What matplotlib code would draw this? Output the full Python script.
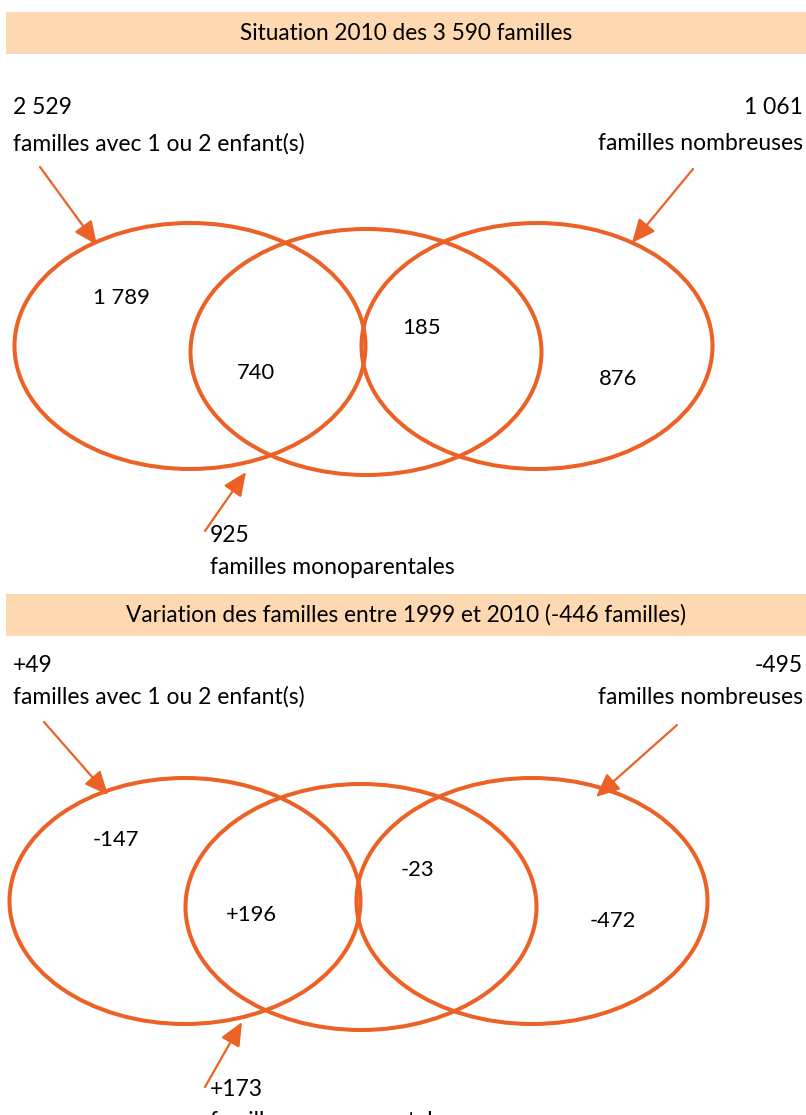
import matplotlib.pyplot as plt
from matplotlib.patches import Ellipse, Rectangle

plt.rcParams['font.family'] = ['Lato', 'DejaVu Sans']

# data
titles = ["Situation 2010 des 3 590 familles",
          "Variation des familles entre 1999 et 2010 (-446 familles)"]
group_names = ["familles avec 1 ou 2 enfant(s)", "familles nombreuses", "familles monoparentales"]
totals_2010 = ["2 529", "1 061", "925"]
totals_var = ["+49", "-495", "+173"]
# regions: 1-2 enfants seuls, 1-2 enfants monoparentales, nombreuses monoparentales, nombreuses seules
regions_2010 = ["1 789", "740", "185", "876"]
regions_var = ["-147", "+196", "-23", "-472"]

ORANGE = "#EC6125"
PEACH = "#FDD8B0"
FS = 16.5

fig = plt.figure(figsize=(8.06, 11.15), dpi=100)
ax = fig.add_axes([0, 0, 1, 1])
ax.set_xlim(0, 806)
ax.set_ylim(1115, 0)
ax.axis('off')


def panel(y0, title, totals, regions, dx=0, dy_e=0, dy_t=0, lab=(95, 132)):
    # header band
    ax.add_patch(Rectangle((6, y0), 800, 42, color=PEACH, lw=0))
    ax.text(406, y0 + 21, title, ha='center', va='center', fontsize=16.3)
    # group labels
    ax.text(13, y0 + lab[0], totals[0], ha='left', va='center', fontsize=FS)
    ax.text(13, y0 + lab[1], group_names[0], ha='left', va='center', fontsize=FS)
    ax.text(803, y0 + lab[0], totals[1], ha='right', va='center', fontsize=FS)
    ax.text(803, y0 + lab[1], group_names[1], ha='right', va='center', fontsize=FS)
    # ellipses
    ey = y0 + 334 + dy_e
    for cx, cy in [(190 + dx, ey), (366 + dx, ey + 6), (537 + dx, ey)]:
        ax.add_patch(Ellipse((cx, cy), 351, 246, fill=False, ec=ORANGE, lw=2.9))
    # region values
    ty = ey + dy_t
    pos = [(121 + dx, ty - 48), (256 + dx, ty + 27), (422 + dx, ty - 18), (618 + dx, ty + 33)]
    for (x, y), v in zip(pos, regions):
        ax.text(x, y, v, ha='center', va='center', fontsize=15.8)
    return ey


def arrow(x0, y0, x1, y1):
    ax.annotate('', xy=(x1, y1), xytext=(x0, y0),
                arrowprops=dict(arrowstyle='-|>,head_length=0.9,head_width=0.4',
                                color=ORANGE, lw=1.6, shrinkA=0, shrinkB=0,
                                mutation_scale=16))


# top panel
panel(12, titles[0], totals_2010, regions_2010)
arrow(40, 167, 97, 245)
arrow(693, 169, 632, 243)
arrow(205, 531, 246, 472)
ax.text(210, 535, totals_2010[2], ha='left', va='center', fontsize=FS)
ax.text(210, 567, group_names[2], ha='left', va='center', fontsize=FS)

# bottom panel
panel(594, titles[1], totals_var, regions_var, dx=-5, dy_e=-27, dy_t=-13, lab=(72, 103))
arrow(44, 722, 108, 795)
arrow(677, 725, 596, 797)
arrow(205, 1087, 242, 1022)
ax.text(210, 1089, totals_var[2], ha='left', va='center', fontsize=FS)
ax.text(210, 1122, group_names[2], ha='left', va='center', fontsize=FS)

fig.savefig('out.png', dpi=100)
